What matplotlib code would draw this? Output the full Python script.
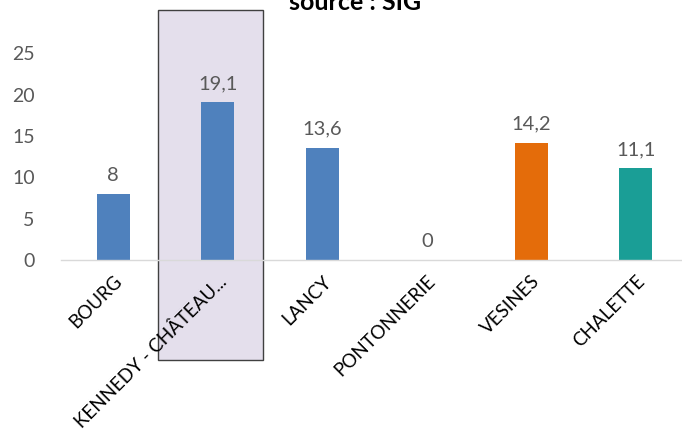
import matplotlib.pyplot as plt
from matplotlib import patches

# data
categories = ['BOURG', 'KENNEDY - CHÂTEAU...', 'LANCY', 'PONTONNERIE', 'VESINES', 'CHALETTE']
values = [8, 19.1, 13.6, 0, 14.2, 11.1]
value_labels = ['8', '19,1', '13,6', '0', '14,2', '11,1']
colors = ['#4F81BD', '#4F81BD', '#4F81BD', '#4F81BD', '#E46C0A', '#1A9E96']
yticks = [0, 5, 10, 15, 20, 25]

plt.rcParams['font.family'] = ['Lato', 'DejaVu Sans']

fig = plt.figure(figsize=(6.82, 4.34), dpi=100)
W, H = 682, 434

# highlight box behind the second category
box = patches.Rectangle((158 / W, 1 - 360 / H), 105 / W, 350 / H,
                        transform=fig.transFigure, facecolor='#E4DFEC',
                        edgecolor='#404040', linewidth=1.0, zorder=0)
fig.patches.append(box)

ax = fig.add_axes([61 / W, 1 - 260 / H, 627 / W, 215 / H])
ax.set_zorder(1)
ax.patch.set_visible(False)

x = range(len(categories))
ax.bar(x, values, width=0.32, color=colors, zorder=2)
for xi, v, lab in zip(x, values, value_labels):
    ax.annotate(lab, (xi, v), xytext=(0, 7), textcoords='offset points',
                ha='center', va='bottom', fontsize=14.5, color='#595959')

ax.set_xlim(-0.5, 5.5)
ax.set_ylim(0, 26)
ax.set_yticks(yticks)
ax.set_yticklabels([str(t) for t in yticks], fontsize=14, color='#595959')
ax.set_xticks(list(x))
ax.set_xticklabels(categories, rotation=45, ha='right', rotation_mode='anchor',
                   fontsize=13.5, color='#000000')
ax.tick_params(axis='y', length=0, pad=19)
ax.tick_params(axis='x', length=0, pad=9)

for s in ['top', 'right', 'left']:
    ax.spines[s].set_visible(False)
ax.spines['bottom'].set_color('#D9D9D9')
ax.spines['bottom'].set_linewidth(1.0)

fig.text(355 / W, 1 - 3 / H, 'source : SIG', ha='center', va='center',
         fontsize=18, fontweight='bold', color='#000000')

fig.savefig('out.png', dpi=100)
